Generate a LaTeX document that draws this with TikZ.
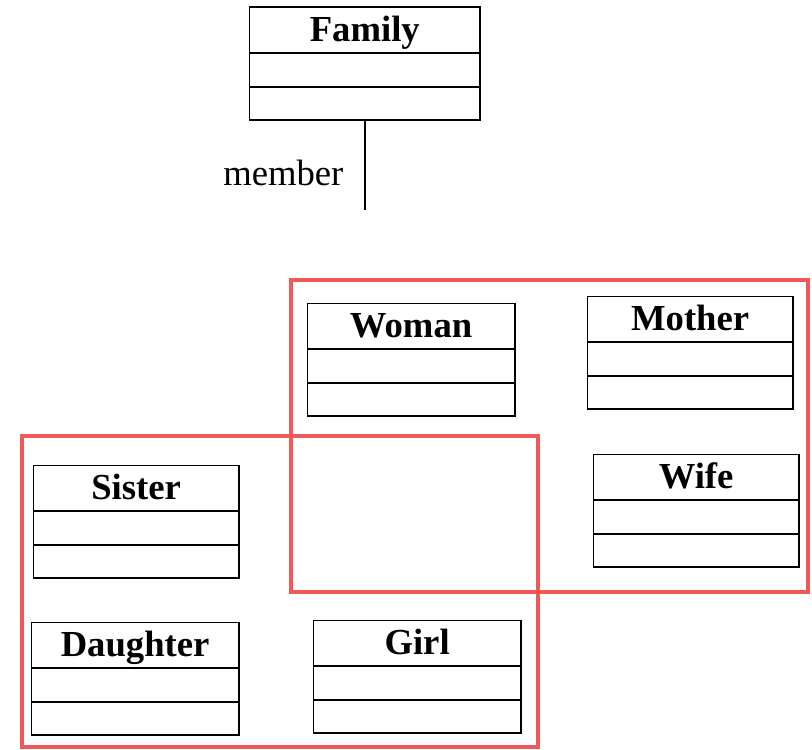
\documentclass[tikz,border=0pt]{standalone}
\usepackage{fontspec}
\setmainfont{Liberation Serif}
\usetikzlibrary{shapes.multipart, positioning}

\definecolor{groupred}{RGB}{243,88,88}

\tikzset{
  classbox/.style={rectangle split, rectangle split parts=3, draw, line width=1.4pt,
    inner xsep=0pt, inner ysep=0pt, text width=#1, align=center, anchor=north west,
    font=\fontsize{27.5}{30}\selectfont\bfseries},
  classbox/.default=154pt,
  groupbox/.style={draw=groupred, line width=2.3pt}
}

\newcommand{\cls}[1]{\rule[-8pt]{0pt}{33pt}#1\nodepart{second}\rule{0pt}{23.6pt}\nodepart{third}\rule{0pt}{23.6pt}}

\begin{document}
\begin{tikzpicture}[x=0.75pt, y=-0.75pt]
	\useasboundingbox (0,0) rectangle (812,749);

	% classes
	\node [classbox=173pt] (family) at (248.5,6.5) {\cls{Family}};
	\node [classbox=155.5pt] (woman) at (306.5,302.5) {\cls{Woman}};
	\node [classbox] (mother) at (586.5,295.5) {\cls{Mother}};
	\node [classbox] (wife) at (592.5,453.5) {\cls{Wife}};
	\node [classbox] (sister) at (32.5,464.5) {\cls{Sister}};
	\node [classbox=155.5pt] (daughter) at (30.5,621.5) {\cls{Daughter}};
	\node [classbox=155.5pt] (girl) at (312.5,619.5) {\cls{Girl}};

	% member association
	\path (family.south) ++(0,89) coordinate (memberend);
	\draw [line width=1.4pt] (family.south) -- (memberend)
		node [pos=0.58, left=12pt, font=\fontsize{27.5}{30}\selectfont] {member};

	% groups
	\draw [groupbox] (291,280) rectangle (808,592);
	\draw [groupbox] (22,436) rectangle (538,747);
\end{tikzpicture}
\end{document}
